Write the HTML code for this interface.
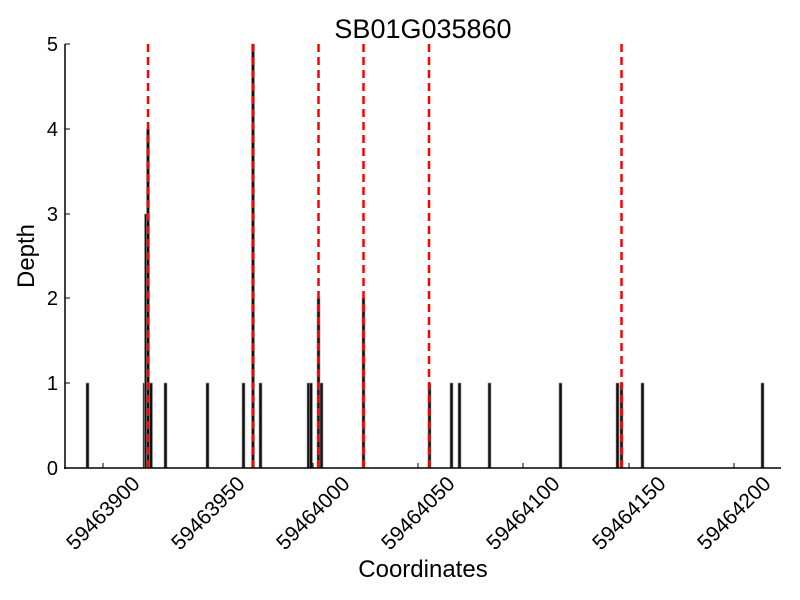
<!DOCTYPE html>
<html><head><style>body{margin:0;background:#fff}svg{display:block;font-family:"Liberation Sans",sans-serif}</style></head>
<body>
<svg width="800" height="600" viewBox="0 0 800 600">
<rect width="800" height="600" fill="#fff"/>
<text x="423" y="38" font-size="27" text-anchor="middle">SB01G035860</text>
<g fill="#111" stroke="#999" stroke-width="0.6">
<rect x="86" y="383" width="3" height="85"/>
<rect x="143" y="383" width="3" height="85"/>
<rect x="144.5" y="214" width="3" height="254"/>
<rect x="146.5" y="129" width="3" height="339"/>
<rect x="149.5" y="383" width="3" height="85"/>
<rect x="164" y="383" width="3" height="85"/>
<rect x="206" y="383" width="3" height="85"/>
<rect x="242" y="383" width="3" height="85"/>
<rect x="251.5" y="44" width="3" height="424"/>
<rect x="259" y="383" width="3" height="85"/>
<rect x="307" y="383" width="3" height="85"/>
<rect x="309.5" y="383" width="3" height="85"/>
<rect x="317" y="298" width="3" height="170"/>
<rect x="320" y="383" width="3" height="85"/>
<rect x="362" y="298" width="3" height="170"/>
<rect x="428" y="383" width="3" height="85"/>
<rect x="450" y="383" width="3" height="85"/>
<rect x="458" y="383" width="3" height="85"/>
<rect x="488" y="383" width="3" height="85"/>
<rect x="559" y="383" width="3" height="85"/>
<rect x="616" y="383" width="3" height="85"/>
<rect x="620" y="383" width="3" height="85"/>
<rect x="641" y="383" width="3" height="85"/>
<rect x="761" y="383" width="3" height="85"/>
</g>
<g stroke="#f00" stroke-width="2.5" stroke-dasharray="8,5">
<line x1="148" y1="44" x2="148" y2="468"/>
<line x1="253" y1="44" x2="253" y2="468"/>
<line x1="318.5" y1="44" x2="318.5" y2="468"/>
<line x1="363.5" y1="44" x2="363.5" y2="468"/>
<line x1="429" y1="44" x2="429" y2="468"/>
<line x1="621.5" y1="44" x2="621.5" y2="468"/>
</g>
<g stroke="#000" stroke-width="1.5">
<line x1="65" y1="44" x2="65" y2="469"/>
<line x1="64" y1="468" x2="781" y2="468"/>
</g>
<g stroke="#000" stroke-width="1">
<line x1="65" y1="44" x2="70" y2="44"/><line x1="65" y1="129" x2="70" y2="129"/><line x1="65" y1="214" x2="70" y2="214"/><line x1="65" y1="298" x2="70" y2="298"/><line x1="65" y1="383" x2="70" y2="383"/>
<line x1="103" y1="468" x2="103" y2="463"/><line x1="208" y1="468" x2="208" y2="463"/><line x1="313" y1="468" x2="313" y2="463"/><line x1="418" y1="468" x2="418" y2="463"/><line x1="523" y1="468" x2="523" y2="463"/><line x1="629" y1="468" x2="629" y2="463"/><line x1="734" y1="468" x2="734" y2="463"/>
</g>
<g font-size="20" text-anchor="end">
<text x="58" y="475">0</text><text x="58" y="390">1</text><text x="58" y="305">2</text><text x="58" y="221">3</text><text x="58" y="136">4</text><text x="58" y="51">5</text>
</g>
<g font-size="21" text-anchor="end">
<text transform="translate(141,485) rotate(-45)">59463900</text>
<text transform="translate(246,485) rotate(-45)">59463950</text>
<text transform="translate(351,485) rotate(-45)">59464000</text>
<text transform="translate(456,485) rotate(-45)">59464050</text>
<text transform="translate(561,485) rotate(-45)">59464100</text>
<text transform="translate(667,485) rotate(-45)">59464150</text>
<text transform="translate(772,485) rotate(-45)">59464200</text>
</g>
<text x="423" y="577" font-size="24" text-anchor="middle">Coordinates</text>
<text transform="translate(34,256) rotate(-90)" font-size="24" text-anchor="middle">Depth</text>
</svg>
</body></html>
